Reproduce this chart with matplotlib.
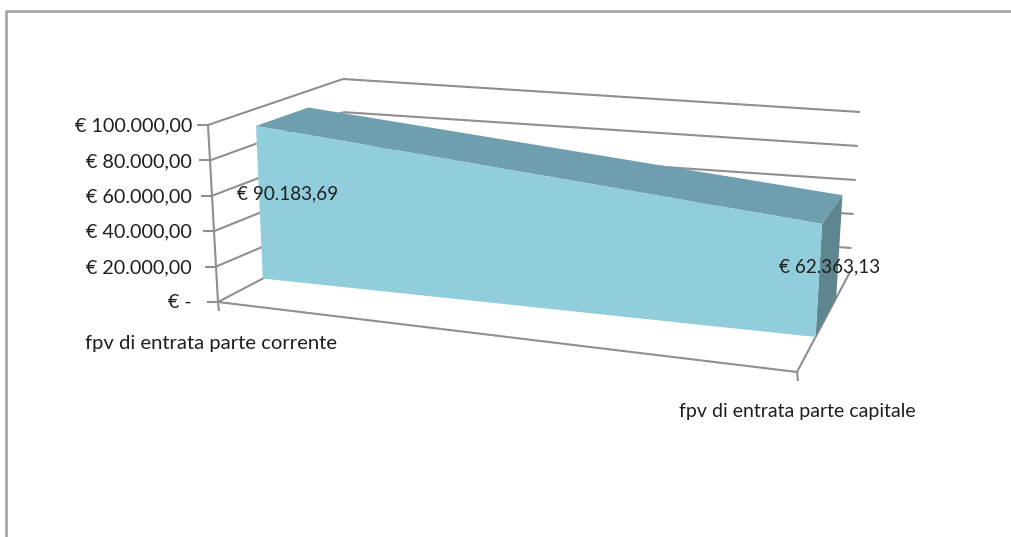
import numpy as np
import matplotlib
matplotlib.use("Agg")
import matplotlib.pyplot as plt
from matplotlib.patches import Polygon

categories = ["fpv di entrata parte corrente", "fpv di entrata parte capitale"]
values = [90183.69, 62363.13]
y_ticks = [0, 20000, 40000, 60000, 80000, 100000]
y_tick_labels = ["€ -", "€ 20.000,00", "€ 40.000,00", "€ 60.000,00", "€ 80.000,00", "€ 100.000,00"]
value_labels = ["€ 90.183,69", "€ 62.363,13"]
y_max = 100000

# corners of the 3d box in pixels, the excel view is not a real camera
front_left_bottom = np.array([218, 302])
front_left_top = np.array([208, 125])
front_right_bottom = np.array([797, 372])
front_right_top = np.array([808, 176])
back_left_bottom = np.array([346, 235])
back_left_top = np.array([343, 79])
back_right_bottom = np.array([850, 272])
back_right_top = np.array([860, 112])

# depth of the area slab inside the box
area_front = 0.35
area_back = 0.74

GRID = "#8f8f8f"
TEXT = "#1f1f1f"
FACE = "#92cddc"
TOP = "#6f9fae"
SIDE = "#5f858f"


def project(c, value, d):
    v = value / y_max
    # back wall gridlines sit closer together near the floor
    vb = np.interp(v, [0, 0.2, 1], [0, 0.15, 1])
    left_f = front_left_bottom + (front_left_top - front_left_bottom) * v
    right_f = front_right_bottom + (front_right_top - front_right_bottom) * v
    left_b = back_left_bottom + (back_left_top - back_left_bottom) * vb
    right_b = back_right_bottom + (back_right_top - back_right_bottom) * vb
    front = left_f + (right_f - left_f) * c
    back = left_b + (right_b - left_b) * c
    return front + (back - front) * d


def line(ax, p, q, lw=1.5):
    ax.plot([p[0], q[0]], [p[1], q[1]], color=GRID, lw=lw, solid_capstyle="butt", zorder=1)


fig = plt.figure(figsize=(10.11, 5.37), dpi=100)
plt.rcParams["font.family"] = ["Lato", "DejaVu Sans"]
ax = fig.add_axes([0, 0, 1, 1])
ax.set_xlim(0, 1011)
ax.set_ylim(537, 0)
ax.axis("off")

# chart frame, only left and top show in the crop
ax.plot([6, 6, 1011], [537, 11, 11], color="#a6a6a6", lw=2, zorder=1)

# walls and floor
for t in y_ticks:
    line(ax, project(0, t, 0), project(0, t, 1))
    if t > 0:
        line(ax, project(0, t, 1), project(1, t, 1))
    start = project(0, t, 0)
    line(ax, start, start + np.array([-11, 0]))
line(ax, project(0, 0, 0), project(0, y_max, 0))
line(ax, project(0, 0, 0), project(1, 0, 0))
line(ax, project(1, 0, 0), project(1, 0, 1))
for c in [0, 1]:
    start = project(c, 0, 0)
    line(ax, start, start + np.array([1, 9]))

# area slab
front_face = [project(0, 0, area_front), project(0, values[0], area_front),
              project(1, values[1], area_front), project(1, 0, area_front)]
top_face = [project(0, values[0], area_front), project(0, values[0], area_back),
            project(1, values[1], area_back), project(1, values[1], area_front)]
side_face = [project(1, 0, area_front), project(1, values[1], area_front),
             project(1, values[1], area_back), project(1, 0, area_back)]
ax.add_patch(Polygon(side_face, closed=True, fc=SIDE, ec="none", zorder=2))
ax.add_patch(Polygon(top_face, closed=True, fc=TOP, ec="none", zorder=2))
ax.add_patch(Polygon(front_face, closed=True, fc=FACE, ec="none", zorder=3))

# text
for t, lab in zip(y_ticks, y_tick_labels):
    ax.text(192, project(0, t, 0)[1] + 1, lab, ha="right", va="center", fontsize=14.2, color=TEXT, zorder=5)
ax.text(288, 194, value_labels[0], ha="center", va="center", fontsize=13.6, color=TEXT, zorder=5)
ax.text(830, 267, value_labels[1], ha="center", va="center", fontsize=13.6, color=TEXT, zorder=5)
ax.text(211, 343, categories[0], ha="center", va="center", fontsize=14.6, color=TEXT, zorder=5)
ax.text(797, 411, categories[1], ha="center", va="center", fontsize=14, color=TEXT, zorder=5)

fig.savefig("out.png", dpi=100)
